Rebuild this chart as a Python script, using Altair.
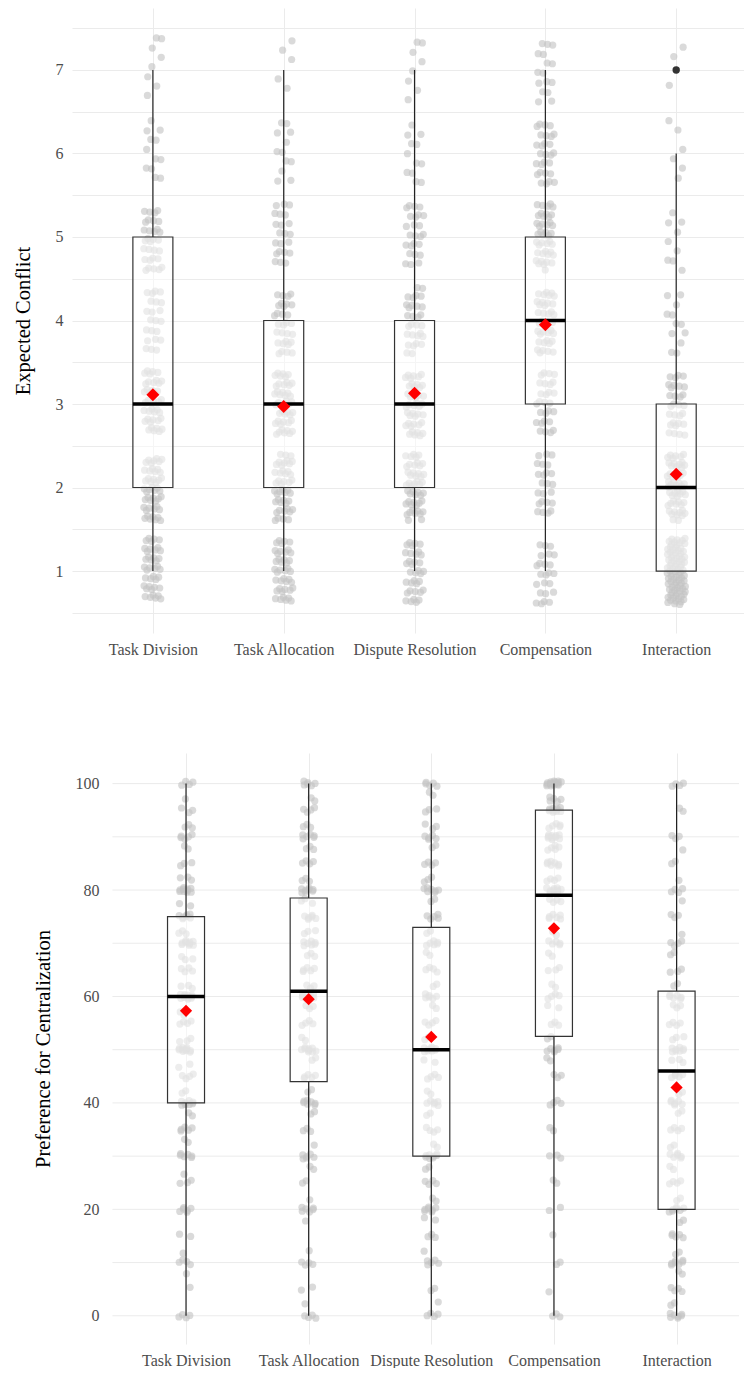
import json
import altair as alt
import pandas as pd

# ---------------- data ----------------
categories = ["Task Division", "Task Allocation", "Dispute Resolution", "Compensation", "Interaction"]

# Panel 1: Expected Conflict, ratings 1-7 (counts read from point density)
conflict_ratings = [1, 2, 3, 4, 5, 6, 7]
conflict_counts_task_division = [40, 47, 40, 22, 31, 12, 8]
conflict_counts_task_allocation = [41, 45, 45, 30, 22, 12, 5]
conflict_counts_dispute_resolution = [35, 48, 42, 30, 25, 12, 8]
conflict_counts_compensation = [24, 24, 28, 38, 42, 28, 16]
conflict_counts_interaction = [85, 55, 30, 12, 9, 6, 3]

conflict_whisker_low = [1, 1, 1, 1, 1]
conflict_q1 = [2, 2, 2, 3, 1]
conflict_median = [3, 3, 3, 4, 2]
conflict_q3 = [5, 4, 4, 5, 3]
conflict_whisker_high = [7, 7, 7, 7, 6]
conflict_mean = [3.11, 2.97, 3.13, 3.95, 2.16]
conflict_outlier_category = ["Interaction"]
conflict_outlier_value = [7]
conflict_y_ticks = [1, 2, 3, 4, 5, 6, 7]

# Panel 2: Preference for Centralization, 0-100
central_values_task_division = [0, 5, 8, 10, 12, 15, 19, 20, 25, 27, 30, 33, 35, 38, 40, 42, 45, 47, 50, 52, 55, 57, 60, 62, 65, 67, 70, 72, 75, 77, 80, 82, 85, 88, 90, 92, 95, 97, 100]
central_counts_task_division = [4, 1, 1, 4, 1, 2, 1, 5, 3, 1, 6, 2, 5, 2, 8, 2, 4, 2, 10, 3, 4, 2, 11, 3, 4, 3, 9, 3, 7, 2, 10, 3, 3, 2, 5, 3, 3, 1, 4]
central_values_task_allocation = [0, 2, 5, 10, 12, 18, 20, 22, 25, 28, 30, 32, 35, 38, 40, 42, 45, 48, 50, 52, 55, 58, 60, 62, 65, 68, 70, 72, 75, 78, 80, 82, 85, 88, 90, 92, 95, 97, 100]
central_counts_task_allocation = [4, 1, 2, 4, 1, 1, 6, 1, 2, 2, 6, 1, 3, 2, 7, 2, 5, 2, 9, 2, 4, 3, 9, 3, 5, 3, 7, 3, 6, 3, 8, 3, 4, 3, 6, 3, 4, 2, 6]
central_values_dispute_resolution = [0, 3, 5, 10, 12, 15, 18, 20, 22, 25, 28, 30, 32, 35, 38, 40, 42, 45, 48, 50, 52, 55, 58, 60, 62, 65, 68, 70, 72, 75, 78, 80, 82, 85, 88, 90, 92, 95, 98, 100]
central_counts_dispute_resolution = [4, 1, 2, 5, 1, 3, 2, 7, 2, 4, 2, 8, 2, 4, 2, 6, 2, 4, 2, 9, 2, 4, 2, 6, 2, 4, 2, 6, 2, 5, 2, 7, 3, 4, 2, 5, 3, 3, 2, 5]
central_values_compensation = [0, 5, 10, 15, 20, 25, 30, 35, 40, 45, 48, 50, 52, 55, 58, 60, 62, 65, 68, 70, 72, 75, 78, 80, 82, 85, 88, 90, 92, 95, 97, 100]
central_counts_compensation = [3, 1, 2, 1, 2, 2, 3, 2, 4, 3, 2, 6, 2, 3, 2, 4, 2, 3, 2, 5, 2, 6, 4, 10, 4, 7, 5, 10, 5, 10, 5, 16]
central_values_interaction = [0, 2, 5, 8, 10, 12, 15, 18, 20, 22, 25, 28, 30, 32, 35, 38, 40, 42, 45, 48, 50, 52, 55, 58, 60, 62, 65, 68, 70, 72, 75, 78, 80, 82, 85, 88, 90, 95, 100]
central_counts_interaction = [7, 2, 4, 2, 7, 2, 5, 2, 7, 2, 4, 2, 6, 2, 4, 2, 6, 2, 5, 3, 8, 3, 4, 3, 6, 2, 3, 2, 4, 1, 3, 1, 4, 1, 2, 1, 3, 2, 4]

central_whisker_low = [0, 0, 0, 0, 0]
central_q1 = [40, 44, 30, 52.5, 20]
central_median = [60, 61, 50, 79, 46]
central_q3 = [75, 78.5, 73, 95, 61]
central_whisker_high = [100, 100, 100, 100, 100]
central_mean = [57.3, 59.5, 52.4, 72.8, 42.9]
central_y_ticks = [0, 20, 40, 60, 80, 100]

# ---------------- tables ----------------
def point_table(values_per_cat, counts_per_cat):
    rows = []
    for ci, (vals, cnts) in enumerate(zip(values_per_cat, counts_per_cat)):
        for v, c in zip(vals, cnts):
            for _ in range(c):
                rows.append({"category": categories[ci], "idx": ci, "value": v})
    return pd.DataFrame(rows)


def box_table(lo, q1, med, q3, hi, mean):
    return pd.DataFrame({
        "category": categories,
        "idx": list(range(len(categories))),
        "lo": lo, "q1": q1, "med": med, "q3": q3, "hi": hi, "mean": mean,
    })


conflict_points = point_table(
    [conflict_ratings] * 5,
    [conflict_counts_task_division, conflict_counts_task_allocation,
     conflict_counts_dispute_resolution, conflict_counts_compensation,
     conflict_counts_interaction],
)
central_points = point_table(
    [central_values_task_division, central_values_task_allocation,
     central_values_dispute_resolution, central_values_compensation,
     central_values_interaction],
    [central_counts_task_division, central_counts_task_allocation,
     central_counts_dispute_resolution, central_counts_compensation,
     central_counts_interaction],
)
conflict_box = box_table(conflict_whisker_low, conflict_q1, conflict_median,
                         conflict_q3, conflict_whisker_high, conflict_mean)
central_box = box_table(central_whisker_low, central_q1, central_median,
                        central_q3, central_whisker_high, central_mean)
conflict_outliers = pd.DataFrame({
    "idx": [categories.index(c) for c in conflict_outlier_category],
    "value": conflict_outlier_value,
})

FONT = "Liberation Serif"
label_expr = json.dumps(categories) + "[round(datum.value)]"
GRID = "#ebebeb"


def grid_values(ticks):
    # major ticks plus the minor lines half way between them
    step = ticks[1] - ticks[0]
    vals = []
    for t in ticks:
        vals.append(t - step / 2)
        vals.append(t)
    vals.append(ticks[-1] + step / 2)
    return vals


def panel(points, box, outliers, title, ydomain, yticks, xdomain, xvisible,
          width, height, box_px, jx_amp, jy_amp, diamond, label_pad,
          title_pad, xlabel_pad, own_grid):
    xscale = alt.Scale(domain=xdomain, nice=False, zero=False)
    yscale = alt.Scale(domain=ydomain, nice=False, zero=False)
    gvals = [v for v in grid_values(yticks) if ydomain[0] <= v <= ydomain[1]]
    xaxis = alt.Axis(values=[0, 1, 2, 3, 4], labelExpr=label_expr,
                     labelPadding=xlabel_pad, grid=True)
    yaxis = alt.Axis(values=gvals,
                     labelExpr=f"indexof({json.dumps(yticks)}, datum.value) >= 0 ? format(datum.value, 'd') : ''",
                     labelPadding=label_pad, titlePadding=title_pad,
                     grid=not own_grid)

    def X(f):
        return alt.X(f, type="quantitative", scale=xscale, axis=xaxis, title=None)

    def Y(f):
        return alt.Y(f, type="quantitative", scale=yscale, axis=yaxis, title=title)

    layers = []
    if own_grid:
        gdf = pd.DataFrame({"g": gvals})
        layers.append(alt.Chart(gdf).mark_rule(color=GRID, strokeWidth=1).encode(
            x=alt.datum(xvisible[0]), x2=alt.datum(xvisible[1]), y=Y("g")))

    pts = alt.Chart(points).transform_window(
        row="row_number()"
    ).transform_calculate(
        jx=f"datum.idx + ((datum.row * 0.7548776662) % 1 - 0.5) * {jx_amp}",
        jy=f"datum.value + ((datum.row * 0.5698402910) % 1 - 0.5) * {jy_amp}",
    ).mark_circle(color="#c4c4c4", opacity=0.62, size=52).encode(
        x=X("jx"), y=Y("jy")
    )
    base = alt.Chart(box)
    wlo = base.mark_rule(color="#222222", strokeWidth=1.2).encode(
        x=X("idx"), y=Y("lo"), y2="q1")
    whi = base.mark_rule(color="#222222", strokeWidth=1.2).encode(
        x=X("idx"), y=Y("q3"), y2="hi")
    bx = base.mark_bar(fill="white", fillOpacity=0.5, stroke="#333333",
                       strokeWidth=1.2, size=box_px).encode(
        x=X("idx"), y=Y("q1"), y2="q3")
    med = base.mark_tick(orient="horizontal", color="black", size=box_px,
                         thickness=3.5, opacity=1).encode(x=X("idx"), y=Y("med"))
    mn = base.mark_point(shape="diamond", filled=True, color="#ff0000",
                         size=diamond, opacity=1).encode(x=X("idx"), y=Y("mean"))
    layers += [pts, wlo, whi, bx, med, mn]
    if outliers is not None:
        layers.append(alt.Chart(outliers).mark_circle(
            color="#333333", size=55, opacity=1).encode(x=X("idx"), y=Y("value")))
    return alt.layer(*layers).properties(width=width, height=height)


# upper panel: plot area spans the full width
p1 = panel(conflict_points, conflict_box, conflict_outliers, "Expected Conflict",
           [0.258, 7.742], conflict_y_ticks, [-0.58, 4.48], [-0.58, 4.48],
           672, 625, 40, 0.14, 0.8, 170, 9, 22, 8, False)

# lower panel: same origin, but the visible panel starts further right
p2 = panel(central_points, central_box, None, "Preference for Centralization",
           [-5.3, 105.75], central_y_ticks, [-0.889, 4.509], [-0.6, 4.509],
           672, 591, 37, 0.12, 1.0, 150, -27, 19, 8, True)

chart = alt.vconcat(p1, p2, spacing=96).resolve_scale(
    x="independent", y="independent"
).properties(
    padding={"left": 5, "top": 0, "right": 0, "bottom": 0}
).configure_axis(
    labelFont=FONT, titleFont=FONT, labelFontSize=16, titleFontSize=20.5,
    labelColor="#4d4d4d", titleColor="black", titleFontWeight="normal",
    gridColor=GRID, gridWidth=1, domain=False, ticks=False,
).configure_view(stroke=None)

chart.save("out.html", embed_options={"renderer": "svg", "actions": False})
